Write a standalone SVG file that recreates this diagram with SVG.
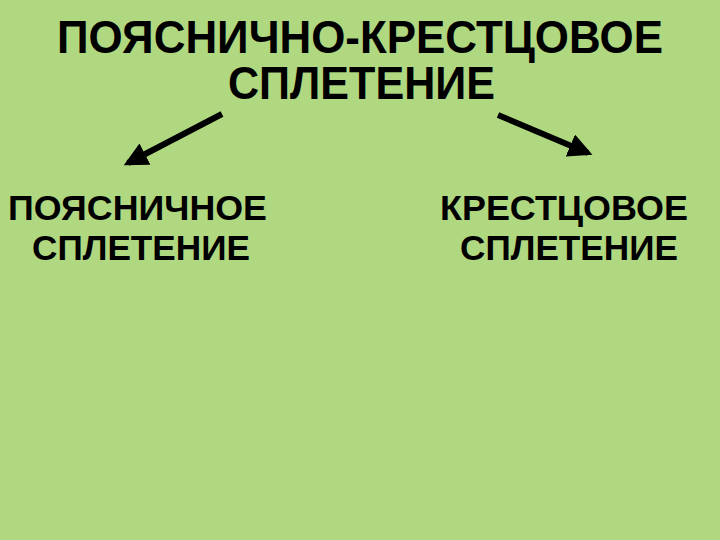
<svg xmlns="http://www.w3.org/2000/svg" width="720" height="540" viewBox="0 0 720 540">
<style>
.t{font-family:"Liberation Sans",Arial,sans-serif;font-weight:bold;fill:#000}
.big{font-size:46px}
.sm{font-size:35px}
.c{stroke:#000;stroke-width:6;fill:none}
</style>
<defs>
<marker id="ah" markerWidth="4" markerHeight="4" refX="3.2" refY="2" orient="auto" markerUnits="strokeWidth">
<path d="M0,0 L4,2 L0,4 Z" fill="#000"/>
</marker>
</defs>
<rect width="720" height="540" fill="#b0d880"/>
<g id="root">
<text class="t big" x="57" y="53" textLength="606" lengthAdjust="spacingAndGlyphs">ПОЯСНИЧНО-КРЕСТЦОВОЕ</text>
<text class="t big" x="228" y="99" textLength="267" lengthAdjust="spacingAndGlyphs">СПЛЕТЕНИЕ</text>
</g>
<g id="lumbar">
<text class="t sm" x="8" y="220" textLength="259" lengthAdjust="spacingAndGlyphs">ПОЯСНИЧНОЕ</text>
<text class="t sm" x="32" y="260" textLength="218" lengthAdjust="spacingAndGlyphs">СПЛЕТЕНИЕ</text>
</g>
<g id="sacral">
<text class="t sm" x="440" y="220" textLength="248" lengthAdjust="spacingAndGlyphs">КРЕСТЦОВОЕ</text>
<text class="t sm" x="460" y="260" textLength="218" lengthAdjust="spacingAndGlyphs">СПЛЕТЕНИЕ</text>
</g>
<g id="connectors">
<line class="c" x1="222" y1="114" x2="128" y2="163" marker-end="url(#ah)"/>
<line class="c" x1="498" y1="115" x2="588" y2="153" marker-end="url(#ah)"/>
</g>
</svg>
